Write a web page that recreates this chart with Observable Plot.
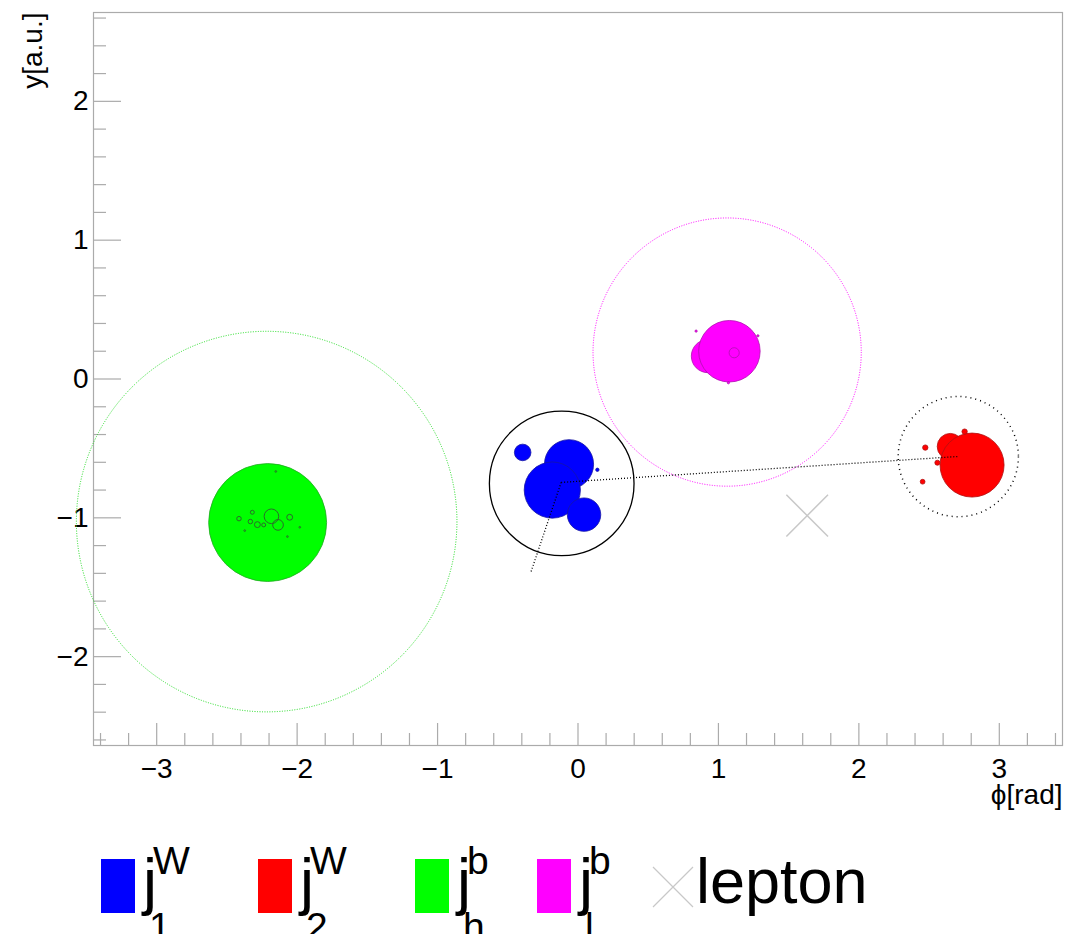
<!DOCTYPE html>
<html><head><meta charset="utf-8">
<script src="https://cdn.jsdelivr.net/npm/d3@7"></script>
<script src="https://cdn.jsdelivr.net/npm/@observablehq/plot@0.6"></script>
<style>
body{margin:0;background:#fff;overflow:hidden;font-family:"Liberation Sans",Arial,sans-serif;}
#wrap{position:relative;width:1065px;height:934px;}
#legend{position:absolute;left:0;top:810px;}
</style></head><body><div id="wrap"><div id="chart"></div><div id="legend"></div></div>
<script>
// ---- axes ----
const xDomain = [-3.45, 3.45];
const yDomain = [-2.64, 2.64];
const majorX = [-3, -2, -1, 0, 1, 2, 3];
const majorY = [-2, -1, 0, 1, 2];
const minorX = [-3.4,-3.2,-2.8,-2.6,-2.4,-2.2,-1.8,-1.6,-1.4,-1.2,-0.8,-0.6,-0.4,-0.2,0.2,0.4,0.6,0.8,1.2,1.4,1.6,1.8,2.2,2.4,2.6,2.8,3.2,3.4];
const minorY = [-2.6,-2.4,-2.2,-1.8,-1.6,-1.4,-1.2,-0.8,-0.6,-0.4,-0.2,0.2,0.4,0.6,0.8,1.2,1.4,1.6,1.8,2.2,2.4,2.6];
const xLabel = "\u03d5[rad]";
const yLabel = "y[a.u.]";

// ---- jet cones (order: j_h^b, j_1^W, j_2^W, j_l^b) ----
const coneX = [-2.217, -0.116, 2.708, 1.062];
const coneY = [-1.027, -0.752, -0.559, 0.194];
const coneR = [1.355, 0.515, 0.428, 0.955];

// ---- constituents ----
const j1X = [-0.394, -0.064, -0.183, 0.043, 0.138];
const j1Y = [-0.529, -0.614, -0.800, -0.977, -0.654];
const j1R = [0.059, 0.175, 0.200, 0.119, 0.012];

const j2X = [2.651, 2.806, 2.753, 2.473, 2.454, 2.559];
const j2Y = [-0.486, -0.620, -0.379, -0.494, -0.740, -0.603];
const j2R = [0.093, 0.228, 0.019, 0.019, 0.017, 0.018];

const jhX = [-2.210];
const jhY = [-1.034];
const jhR = [0.420];
const jhcX = [-2.414, -2.319, -2.333, -2.283, -2.238, -2.183, -2.136, -2.053, -1.981, -2.152, -2.373, -2.069];
const jhcY = [-1.006, -0.960, -1.027, -1.049, -1.051, -0.989, -1.051, -0.996, -1.068, -0.666, -1.092, -1.135];
const jhcR = [0.016, 0.014, 0.016, 0.021, 0.014, 0.052, 0.038, 0.021, 0.006, 0.006, 0.006, 0.006];

const jlX = [0.925, 1.078, 1.112, 0.841, 1.281, 1.071];
const jlY = [0.165, 0.200, 0.189, 0.345, 0.311, -0.027];
const jlR = [0.118, 0.219, 0.036, 0.008, 0.008, 0.008];

// ---- connecting lines ----
const linkX1 = [-0.12, -0.12];
const linkY1 = [-0.745, -0.745];
const linkX2 = [2.708, -0.337];
const linkY2 = [-0.558, -1.396];

// ---- lepton ----
const lepX = [1.632];
const lepY = [-0.984];

// ---- legend ----
const legendColors = ["#0000ff", "#ff0000", "#00ff00", "#ff00ff"];
const legendSup = ["W", "W", "b", "b"];
const legendSub = ["1", "2", "h", "l"];
const leptonLabel = "lepton";

// ---------------------------------------------------------------
const W = 1065, H = 810;
const mL = 93, mR = 3, mT = 12, mB = 65;
const plotW = W - mL - mR, plotH = H - mT - mB;
const pxPerUnit = plotW / (xDomain[1] - xDomain[0]);
const gray = "#ababab";
const FS = 28;

const tbl = (X, Y, R) => X.map((x, i) => ({x, y: Y[i], r: R[i]}));
const cones = tbl(coneX, coneY, coneR);
const fmt = d => d < 0 ? "\u2212" + Math.abs(d) : String(d);
const links = linkX1.map((x1, i) => ({x1, y1: linkY1[i], x2: linkX2[i], y2: linkY2[i]}));

const blob = (data, fill, stroke) => Plot.dot(data, {x: "x", y: "y", r: "r", fill, stroke, strokeWidth: 0.8, sort: null});

const chart = Plot.plot({
  width: W, height: H,
  marginLeft: mL, marginRight: mR, marginTop: mT, marginBottom: mB,
  style: {fontFamily: "'Liberation Sans', Arial, sans-serif", fontSize: FS + "px", color: "black", background: "white"},
  x: {domain: xDomain},
  y: {domain: yDomain},
  r: {type: "linear", domain: [0, 1], range: [0, pxPerUnit]},
  marks: [
    Plot.frame({stroke: gray, strokeWidth: 1.2}),
    Plot.tickY(minorY, {y: d => d, insetRight: plotW - 13, stroke: gray, strokeWidth: 1.2}),
    Plot.tickY(majorY, {y: d => d, insetRight: plotW - 28, stroke: gray, strokeWidth: 1.2}),
    Plot.tickX(minorX, {x: d => d, insetTop: plotH - 12, stroke: gray, strokeWidth: 1.2}),
    Plot.tickX(majorX, {x: d => d, insetTop: plotH - 22, stroke: gray, strokeWidth: 1.2}),
    Plot.axisX({ticks: majorX, tickSize: 0, tickPadding: 13, tickFormat: fmt, fontSize: FS, label: null}),
    Plot.axisY({ticks: majorY, tickSize: 0, tickPadding: 5, tickFormat: fmt, fontSize: FS, label: null}),
    Plot.text([yLabel], {text: d => d, frameAnchor: "top-left", rotate: -90, textAnchor: "end", dx: -71, fontSize: FS}),
    Plot.text([xLabel], {text: d => d, frameAnchor: "bottom-right", textAnchor: "end", dy: 58, fontSize: FS}),
    // cones
    Plot.dot([cones[0]], {x: "x", y: "y", r: "r", fill: "none", stroke: "#22dd22", strokeWidth: 1, strokeDasharray: "1,1.5"}),
    Plot.dot([cones[3]], {x: "x", y: "y", r: "r", fill: "none", stroke: "#ff00ff", strokeWidth: 1, strokeDasharray: "1,1.5"}),
    Plot.dot([cones[1]], {x: "x", y: "y", r: "r", fill: "none", stroke: "#000000", strokeWidth: 1.3}),
    Plot.dot([cones[2]], {x: "x", y: "y", r: "r", fill: "none", stroke: "#000000", strokeWidth: 1.5, strokeDasharray: "1,4"}),
    // constituents
    blob(tbl(jhX, jhY, jhR), "#00ff00", "#22aa22"),
    Plot.dot(tbl(jhcX, jhcY, jhcR), {x: "x", y: "y", r: "r", fill: "none", stroke: "#2b6b2b", strokeWidth: 1, sort: null}),
    blob(tbl(j1X, j1Y, j1R), "#0000ff", "#1515a5"),
    blob(tbl(j2X, j2Y, j2R), "#ff0000", "#b01010"),
    blob(tbl(jlX, jlY, jlR), "#ff00ff", "#b010b0"),
    // lines
    Plot.link(links, {x1: "x1", y1: "y1", x2: "x2", y2: "y2", stroke: "black", strokeWidth: 1.3, strokeDasharray: "1,2"}),
    // lepton
    Plot.dot(lepX.map((x, i) => ({x, y: lepY[i]})), {x: "x", y: "y", symbol: "times", r: 19, stroke: "#c8c8c8", strokeWidth: 1.5})
  ]
});
document.getElementById("chart").appendChild(chart);

// ---- legend (below the SVG) ----
const itemX = [101, 258, 415, 537];
const leg = d3.select("#legend").append("svg").attr("width", W).attr("height", 124)
  .style("font-family", "'Liberation Sans', Arial, sans-serif");
legendColors.forEach((c, i) => {
  const x = itemX[i];
  leg.append("rect").attr("x", x).attr("y", 49).attr("width", 34).attr("height", 54).attr("fill", c);
  const jx = x + 42;
  leg.append("text").attr("x", jx).attr("y", 93).attr("font-size", 63).text("j");
  leg.append("text").attr("x", jx + 10).attr("y", 64).attr("font-size", 39).text(legendSup[i]);
  leg.append("text").attr("x", jx + 6).attr("y", 130).attr("font-size", 39).text(legendSub[i]);
});
leg.append("path").attr("d", "M653,57L693,97M693,57L653,97").attr("stroke", "#c8c8c8").attr("stroke-width", 1.2).attr("fill", "none");
leg.append("text").attr("x", 696).attr("y", 93).attr("font-size", 63).text(leptonLabel);
</script>
</body></html>
